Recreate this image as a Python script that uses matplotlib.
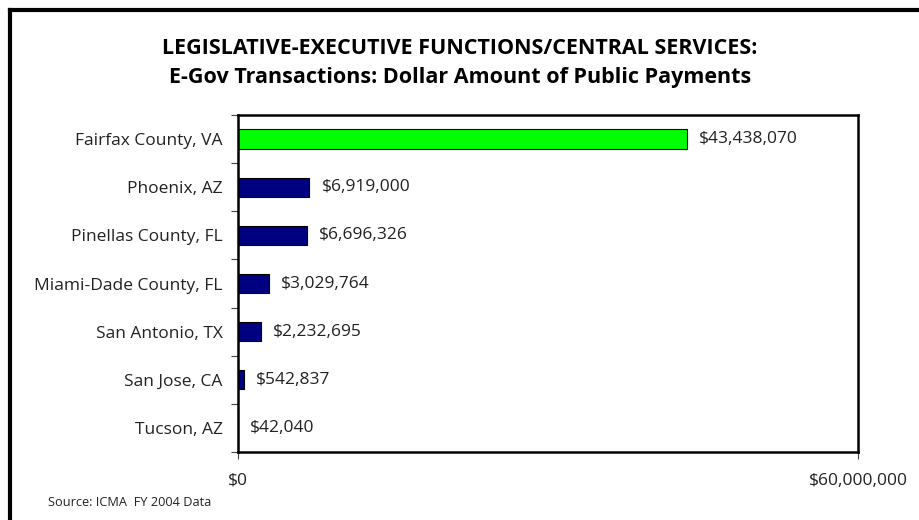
import numpy as np
import matplotlib.pyplot as plt
from matplotlib.lines import Line2D

# ---------------------

places = ['Fairfax County, VA', 'Phoenix, AZ', 'Pinellas County, FL',
          'Miami-Dade County, FL', 'San Antonio, TX', 'San Jose, CA', 'Tucson, AZ']
amounts = [43438070, 6919000, 6696326, 3029764, 2232695, 542837, 42040]
bar_colors = ['#00FF00', '#000080', '#000080', '#000080', '#000080', '#000080', '#000080']
x_ticks = [0, 60000000]
x_tick_labels = ['$0', '$60,000,000']

title1 = 'LEGISLATIVE-EXECUTIVE FUNCTIONS/CENTRAL SERVICES:'
title2 = 'E-Gov Transactions: Dollar Amount of Public Payments'
source = 'Source: ICMA  FY 2004 Data'

# ---------------------

plt.rcParams['font.family'] = ['Open Sans', 'DejaVu Sans']

fig = plt.figure(figsize=(9.19, 5.20), dpi=100)
ax = fig.add_axes([238 / 919, 68 / 520, 620 / 919, 337 / 520])

y = np.arange(len(places))
ax.barh(y, amounts, height=0.4, color=bar_colors, edgecolor='black', linewidth=0.8)

for yi, v in zip(y, amounts):
    ax.text(v + 1150000, yi, '${:,}'.format(v), va='center', ha='left',
            fontsize=12.5, color='#222222')

ax.set_xlim(0, 60000000)
ax.set_ylim(len(places) - 0.5, -0.5)
ax.set_xticks(x_ticks)
ax.set_xticklabels(x_tick_labels, fontsize=12.5, color='#222222')
ax.tick_params(axis='x', direction='out', length=5, pad=10, width=0.8, color='#444444')

ax.set_yticks(y)
ax.set_yticklabels(places, fontsize=12.5, color='#222222')
ax.set_yticks(np.arange(len(places) + 1) - 0.5, minor=True)
ax.tick_params(axis='y', which='major', length=0, pad=11)
ax.tick_params(axis='y', which='minor', direction='out', length=5, width=0.8, color='#444444')

for s in ax.spines.values():
    s.set_linewidth(1.8)
    s.set_color('black')

fig.text(460 / 919, 1 - 49 / 520, title1, ha='center', va='center',
         fontsize=15.5, fontweight='bold')
fig.text(460 / 919, 1 - 78 / 520, title2, ha='center', va='center',
         fontsize=15.5, fontweight='bold')
fig.text(48 / 919, 1 - 502 / 520, source, ha='left', va='center', fontsize=9.2, color='#222222')

# frame at top and left
fig.add_artist(Line2D([10 / 919, 1], [1 - 10 / 520, 1 - 10 / 520], color='black',
                      linewidth=3, transform=fig.transFigure))
fig.add_artist(Line2D([10 / 919, 10 / 919], [0, 1 - 10 / 520], color='black',
                      linewidth=3, transform=fig.transFigure))

fig.savefig('out.png', dpi=100)
